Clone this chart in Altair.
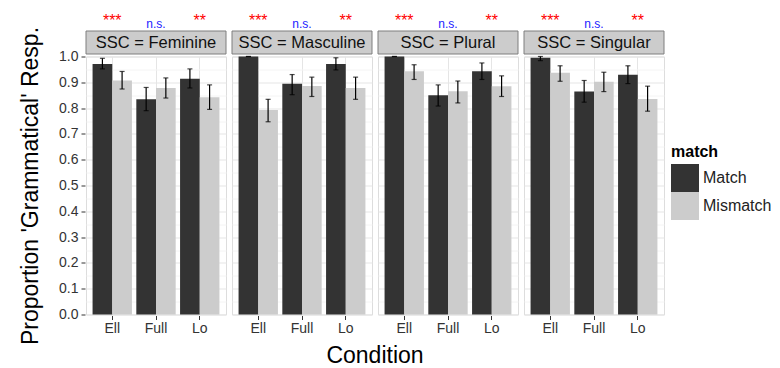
import altair as alt
import pandas as pd

ssc_levels = ["Feminine", "Masculine", "Plural", "Singular"]
conditions = ["Ell", "Full", "Lo"]
matches = ["Match", "Mismatch"]

# order within each SSC: Ell-Match, Ell-Mismatch, Full-Match, Full-Mismatch, Lo-Match, Lo-Mismatch
prop = {
    "Feminine":  [0.971, 0.907, 0.834, 0.878, 0.914, 0.842],
    "Masculine": [1.000, 0.793, 0.894, 0.886, 0.971, 0.878],
    "Plural":    [1.000, 0.943, 0.850, 0.865, 0.943, 0.885],
    "Singular":  [0.995, 0.937, 0.864, 0.902, 0.929, 0.835],
}
err_lo = {
    "Feminine":  [0.952, 0.874, 0.790, 0.839, 0.878, 0.795],
    "Masculine": [1.000, 0.747, 0.852, 0.845, 0.948, 0.834],
    "Plural":    [1.000, 0.911, 0.808, 0.820, 0.911, 0.845],
    "Singular":  [0.984, 0.904, 0.823, 0.864, 0.895, 0.788],
}
err_hi = {
    "Feminine":  [0.993, 0.942, 0.880, 0.917, 0.952, 0.890],
    "Masculine": [1.000, 0.834, 0.930, 0.920, 0.995, 0.920],
    "Plural":    [1.000, 0.968, 0.890, 0.905, 0.975, 0.925],
    "Singular":  [1.000, 0.964, 0.907, 0.939, 0.964, 0.885],
}
significance = {"Ell": "***", "Full": "n.s.", "Lo": "**"}

y_tick_values = [0.0, 0.05, 0.1, 0.15, 0.2, 0.25, 0.3, 0.35, 0.4, 0.45, 0.5,
                 0.55, 0.6, 0.65, 0.7, 0.75, 0.8, 0.85, 0.9, 0.95, 1.0]

rows = []
for s in ssc_levels:
    i = 0
    for c in conditions:
        for m in matches:
            rows.append(dict(SSC=s, Condition=c, match=m, prop=prop[s][i],
                             lo=err_lo[s][i], hi=err_hi[s][i], sig=significance[c]))
            i += 1
df = pd.DataFrame(rows)

FONT = "Liberation Sans"
W, H = 140, 258

xenc = alt.X("Condition:N", sort=conditions,
             scale=alt.Scale(paddingInner=0.1, paddingOuter=0.15),
             axis=alt.Axis(title=None, labelAngle=0, bandPosition=0.5, grid=True,
                           gridColor="#e5e5e5", domain=False, tickColor="#333333",
                           tickSize=4, labelFontSize=14, labelColor="#333333",
                           labelPadding=2))
xoff = alt.XOffset("match:N", sort=matches)

minor = "round(datum.value*100) % 10 != 0"
yaxis = alt.Axis(
    title="Proportion 'Grammatical' Resp.",
    values=y_tick_values,
    labelExpr="round(datum.value*100) % 10 == 0 ? format(datum.value, '.1f') : ''",
    labelOverlap=False,
    tickOpacity={"condition": {"test": minor, "value": 0}, "value": 1},
    gridColor={"condition": {"test": minor, "value": "#f4f4f4"}, "value": "#e5e5e5"},
    domain=False, tickColor="#333333", tickSize=4, labelFontSize=14,
    labelColor="#333333", labelPadding=3, titleFontSize=23, titleFontWeight="normal",
    titleColor="black", titlePadding=16,
)
yscale = alt.Scale(domain=[0, 1], nice=False, zero=True)

base = alt.Chart(df)

bars = base.mark_bar(stroke=None).encode(
    x=xenc, xOffset=xoff,
    y=alt.Y("prop:Q", scale=yscale, axis=yaxis),
    color=alt.Color("match:N", sort=matches,
                    scale=alt.Scale(domain=matches, range=["#333333", "#cccccc"]),
                    legend=alt.Legend(title="match", orient="none", legendX=585, legendY=87.5,
                                      symbolType="square", symbolSize=784,
                                      symbolStrokeWidth=0, titleFontSize=16,
                                      labelFontSize=16, titleFont=FONT, labelFont=FONT,
                                      rowPadding=0, labelOffset=4, titlePadding=4,
                                      titleColor="black", labelColor="#222222")),
)
rules = base.mark_rule(color="black", strokeWidth=1.2).encode(
    x=xenc, xOffset=xoff, y=alt.Y("lo:Q", scale=yscale, axis=yaxis), y2="hi:Q")
cap_lo = base.mark_tick(color="black", size=5, thickness=1.2).encode(
    x=xenc, xOffset=xoff, y=alt.Y("lo:Q", scale=yscale, axis=yaxis))
cap_hi = base.mark_tick(color="black", size=5, thickness=1.2).encode(
    x=xenc, xOffset=xoff, y=alt.Y("hi:Q", scale=yscale, axis=yaxis))

one = base.transform_filter("datum.Condition == 'Ell' && datum.match == 'Match'")
strip = one.mark_rect(fill="#cccccc", stroke="#7f7f7f", strokeWidth=1).encode(
    x=alt.value(0), x2=alt.value(W), y=alt.value(-25.5), y2=alt.value(-2.5))
strip_text = one.transform_calculate(label="'SSC = ' + datum.SSC").mark_text(
    fontSize=16.5, font=FONT, color="#111111", baseline="middle", align="center"
).encode(x=alt.value(W / 2), y=alt.value(-13.5), text="label:N")

sig_base = base.transform_filter("datum.match == 'Match'")
stars = sig_base.transform_filter("datum.sig != 'n.s.'").mark_text(
    fontSize=16, font=FONT, color="#ff0000", baseline="alphabetic"
).encode(x=xenc, y=alt.value(-31), text="sig:N")
ns = sig_base.transform_filter("datum.sig == 'n.s.'").mark_text(
    fontSize=12, font=FONT, color="#2222ff", baseline="alphabetic"
).encode(x=xenc, y=alt.value(-29), text="sig:N")

layered = alt.layer(bars, rules, cap_lo, cap_hi, strip, strip_text, stars, ns).properties(
    width=W, height=H)

chart = layered.facet(
    column=alt.Column("SSC:N", sort=ssc_levels,
                      header=alt.Header(labels=False, title="Condition", titleOrient="bottom",
                                        titleFontSize=23, titleFontWeight="normal",
                                        titleFont=FONT, titleColor="black", titlePadding=-1)),
    spacing=4,
).properties(
    padding={"left": 11, "top": 3.5, "right": 0, "bottom": 0}
).configure_view(
    stroke="#7f7f7f", strokeWidth=1
).configure(
    font=FONT
)

chart.save("out.html", embed_options={"renderer": "svg", "actions": False})
